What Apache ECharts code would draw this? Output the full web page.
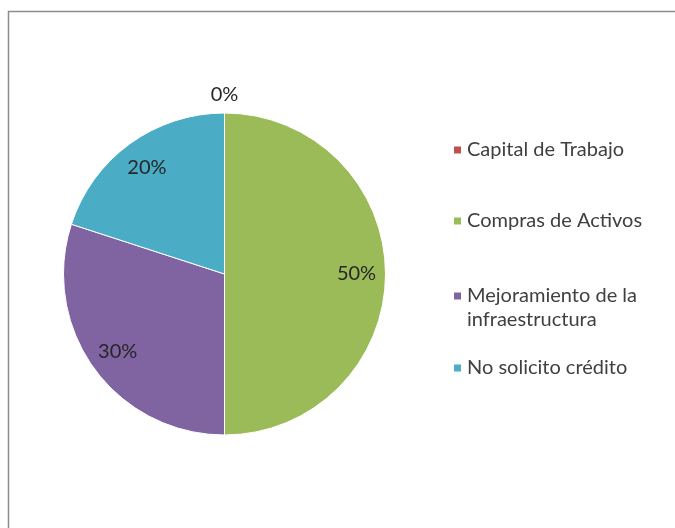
<!DOCTYPE html>
<html>
<head>
<meta charset="utf-8">
<script src="https://cdn.jsdelivr.net/npm/echarts@6/dist/echarts.min.js"></script>
<style>
  html, body { margin: 0; padding: 0; background: #ffffff; }
  #chart { width: 675px; height: 528px; }
</style>
</head>
<body>
<div id="chart"></div>
<script>
// datos del grafico
const categories = ["Capital de Trabajo", "Compras de Activos", "Mejoramiento de la\ninfraestructura", "No solicito crédito"];
const values = [0, 50, 30, 20];
const colors = ["#C0504D", "#9BBB59", "#8064A2", "#4BACC6"];

const chart = echarts.init(document.getElementById("chart"));

const center = [224.5, 274];
const font = "Lato, 'Open Sans', sans-serif";

const pieData = categories.map((name, i) => ({
  name: name,
  value: values[i],
  itemStyle: { color: colors[i] }
}));

// serie solo para etiquetas internas
const labelData = categories.map((name, i) => ({
  name: name,
  value: values[i],
  label: { show: values[i] > 0 }
}));

// etiqueta del 0% por encima del circulo
const zeroData = categories.map((name, i) => ({
  name: name,
  value: values[i],
  label: { show: values[i] === 0 }
}));

// una leyenda por elemento para colocar cada uno como en Excel
const legendTops = [138, 209, 260, 356];
const legends = categories.map((name, i) => ({
  orient: "vertical",
  left: 452,
  top: legendTops[i],
  padding: 0,
  itemWidth: 9,
  itemHeight: 9,
  itemGap: 0,
  icon: "rect",
  selectedMode: false,
  data: [name],
  // linea vacia delante para que el marcador quede en la primera linea
  formatter: (n) => (n.indexOf("\n") >= 0 ? "\n" + n : n),
  textStyle: {
    fontFamily: font,
    fontSize: 20,
    color: "#404040",
    lineHeight: 24
  }
}));

const option = {
  animation: false,
  backgroundColor: "#ffffff",
  graphic: [
    {
      type: "rect",
      shape: { x: 8.5, y: 11.5, width: 700, height: 600 },
      style: { fill: "none", stroke: "#8c8c8c", lineWidth: 1.5 },
      silent: true
    }
  ],
  legend: legends,
  series: [
    {
      type: "pie",
      center: center,
      radius: 161,
      startAngle: 90,
      clockwise: true,
      silent: true,
      label: { show: false },
      labelLine: { show: false },
      itemStyle: { borderColor: "#ffffff", borderWidth: 1 },
      data: pieData
    },
    {
      type: "pie",
      center: center,
      radius: [97, 161],
      startAngle: 90,
      silent: true,
      itemStyle: { color: "rgba(0,0,0,0)" },
      label: {
        position: "inside",
        formatter: "{d}%",
        fontFamily: font,
        fontSize: 20,
        color: "#262626"
      },
      labelLine: { show: false },
      data: labelData
    },
    {
      type: "pie",
      center: center,
      radius: [166, 186],
      startAngle: 90,
      silent: true,
      itemStyle: { color: "rgba(0,0,0,0)" },
      label: {
        position: "inside",
        formatter: "{d}%",
        fontFamily: font,
        fontSize: 20,
        color: "#262626"
      },
      labelLine: { show: false },
      data: zeroData
    }
  ]
};

chart.setOption(option);
</script>
</body>
</html>
